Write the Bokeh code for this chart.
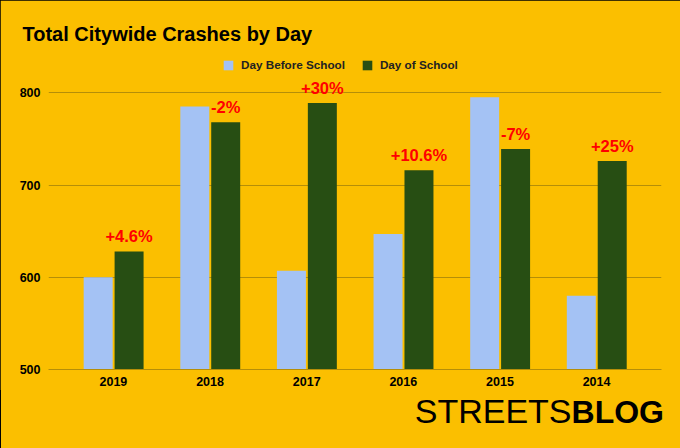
from bokeh.plotting import figure
from bokeh.models import (ColumnDataSource, FactorRange, Range1d, FixedTicker,
                          Legend, LegendItem, Div)
from bokeh.layouts import column
from bokeh.transform import dodge
from bokeh.embed import file_html
from bokeh.resources import INLINE
from bokeh.core.properties import value

years = ["2019", "2018", "2017", "2016", "2015", "2014"]
day_before = [600, 785, 607, 647, 795, 580]
day_of = [628, 768, 789, 716, 739, 726]
change_labels = ["+4.6%", "-2%", "+30%", "+10.6%", "-7%", "+25%"]
y_ticks = [500, 600, 700, 800]
logo_parts = ["STREETS", "BLOG"]

BG = "#FBBF00"
GRID = "#B58E08"
FONT = "Liberation Sans"
W = 680

src = ColumnDataSource(dict(year=years, before=day_before, dayof=day_of, lab=change_labels))

p = figure(width=W, height=390, output_backend="svg", toolbar_location=None,
           x_range=FactorRange(*years, range_padding=0.172, range_padding_units="absolute"),
           y_range=Range1d(500, 845.8),
           min_border_left=48, min_border_right=19, min_border_top=50, min_border_bottom=21)
p.background_fill_alpha = 0
p.border_fill_color = BG
p.outline_line_color = None

r1 = p.vbar(x=dodge("year", -0.158, range=p.x_range), top="before", bottom=500, width=0.30,
            source=src, fill_color="#A4C2F4", line_color=None)
r2 = p.vbar(x=dodge("year", 0.162, range=p.x_range), top="dayof", bottom=500, width=0.30,
            source=src, fill_color="#274E13", line_color=None)

p.text(x=dodge("year", 0.162, range=p.x_range), y="dayof", text="lab", source=src,
       text_color="#FF0000", text_font=value(FONT), text_font_style="bold",
       text_font_size="16.5px", text_align="center", text_baseline="bottom", y_offset=-6)

p.yaxis.ticker = FixedTicker(ticks=y_ticks)
p.yaxis.axis_line_color = None
p.yaxis.major_tick_line_color = None
p.yaxis.minor_tick_line_color = None
p.yaxis.major_tick_out = 0
p.yaxis.major_label_standoff = 8
p.xaxis.axis_line_color = GRID
p.xaxis.major_tick_line_color = None
p.xaxis.major_tick_out = 0
p.xaxis.major_label_standoff = 7
for ax in (p.xaxis, p.yaxis):
    ax.major_label_text_font = FONT
    ax.major_label_text_font_style = "bold"
    ax.major_label_text_font_size = "12.5px"
    ax.major_label_text_color = "#000000"
p.xgrid.grid_line_color = None
p.ygrid.ticker = FixedTicker(ticks=y_ticks)
p.ygrid.grid_line_color = GRID

p.title.text = "Total Citywide Crashes by Day"
p.title.text_font = FONT
p.title.text_font_size = "20px"
p.title.text_font_style = "bold"
p.title.text_color = "#000000"
p.title.align = "left"
p.title.offset = -26
p.title.standoff = 11

legend = Legend(items=[LegendItem(label="Day Before School", renderers=[r1]),
                       LegendItem(label="Day of School", renderers=[r2])],
                orientation="horizontal", location=(174, 298),
                glyph_width=12, glyph_height=12, label_height=12,
                label_standoff=7, spacing=16, padding=0, margin=0,
                background_fill_alpha=0, border_line_color=None,
                label_text_font=FONT, label_text_font_size="11.7px",
                label_text_font_style="bold", label_text_color="#222222")
p.add_layout(legend, "center")

# logo strip below the chart
logo = Div(text=(f'<span style="font-size:34px;font-weight:normal">{logo_parts[0]}</span>'
                 f'<span style="font-size:32px;font-weight:bold">{logo_parts[1]}</span>'
                 '<span style="display:inline-block;width:7px"></span>'),
           width=W, height=58,
           styles={"background-color": BG, "font-family": "'Liberation Sans', sans-serif",
                   "color": "#000000", "text-align": "right", "line-height": "26px",
                   "padding-top": "3px", "padding-right": "14px", "box-sizing": "border-box",
                   "white-space": "nowrap"})

layout = column(p, logo, spacing=0,
                styles={"background-color": BG, "outline": "1px solid #000000",
                        "outline-offset": "-1px"})
open("out.html", "w").write(file_html(layout, INLINE))
